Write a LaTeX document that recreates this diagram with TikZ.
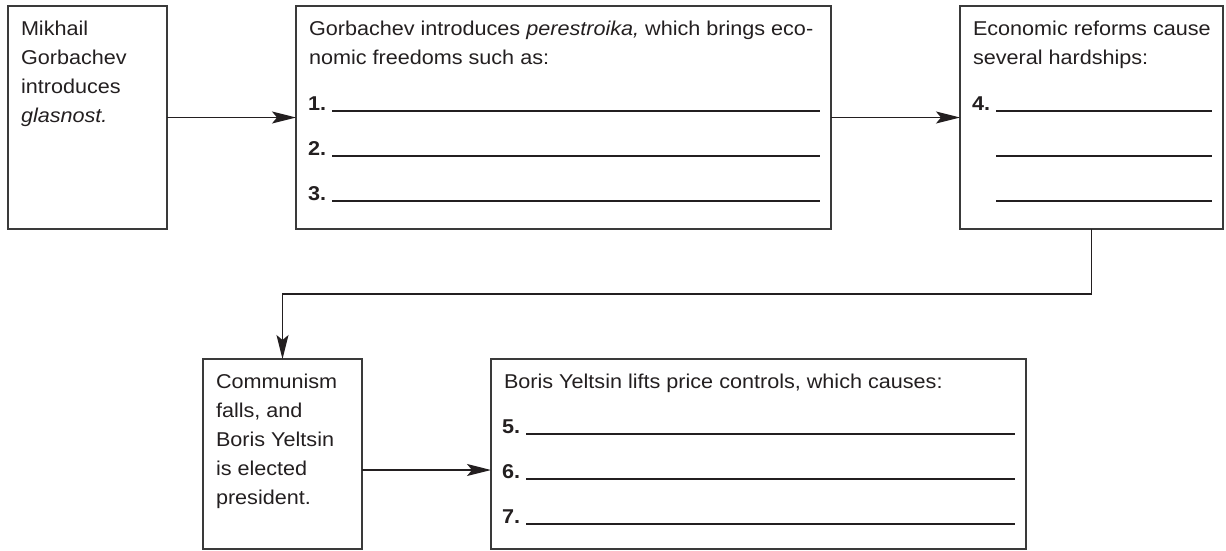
\documentclass[tikz,border=0pt]{standalone}
\usepackage{fontspec}
\setmainfont{Liberation Sans}[FakeStretch=1.08]
\usetikzlibrary{arrows.meta}
\definecolor{bordercol}{HTML}{3A3A3A}
\definecolor{textcol}{HTML}{231F20}
\begin{document}
\begin{tikzpicture}[x=1pt,y=-1pt,
  box/.style={draw=bordercol, line width=1.5pt, inner sep=0pt, outer sep=0pt, anchor=north west, minimum width=#1},
  txt/.style={anchor=base west, inner sep=0pt, outer sep=0pt, text=textcol, font=\fontsize{20}{29}\selectfont},
  num/.style={anchor=base west, inner sep=0pt, outer sep=0pt, text=textcol, font=\fontsize{20}{29}\selectfont\bfseries},
  uline/.style={draw=textcol, line width=1.4pt},
  conn/.style={draw=textcol, line width=1.3pt, -{Stealth[length=24pt,width=12pt,inset=5pt]}}
]
\useasboundingbox (0,0) rectangle (1226,550);

% boxes
\node[box=159pt, minimum height=223pt] (b1) at (8,6) {};
\node[box=535pt, minimum height=223pt] (b2) at (296,6) {};
\node[box=263pt, minimum height=223pt] (b3) at (960,6) {};
\node[box=159pt, minimum height=190pt] (b4) at (203,359) {};
\node[box=535pt, minimum height=190pt] (b5) at (491,359) {};

% box 1 text
\node[txt] (t1a) at (21,35) {Mikhail};
\node[txt] (t1b) at (21,64) {Gorbachev};
\node[txt] (t1c) at (21,93) {introduces};
\node[txt] (t1d) at (21,122) {\textit{glasnost.}};

% box 2 text
\node[txt] (t2a) at (309,35) {Gorbachev introduces \textit{perestroika,} which brings eco-};
\node[txt] (t2b) at (309,64) {nomic freedoms such as:};
\node[num] (n1) at (308,110) {1.};
\node[num] (n2) at (308,155) {2.};
\node[num] (n3) at (308,200) {3.};
\coordinate (u1a) at (332,111); \coordinate (u1b) at (820,111);
\coordinate (u2a) at (332,156); \coordinate (u2b) at (820,156);
\coordinate (u3a) at (332,201); \coordinate (u3b) at (820,201);
\draw[uline] (u1a) -- (u1b);
\draw[uline] (u2a) -- (u2b);
\draw[uline] (u3a) -- (u3b);

% box 3 text
\node[txt] (t3a) at (973,35) {Economic reforms cause};
\node[txt] (t3b) at (973,64) {several hardships:};
\node[num] (n4) at (972,110) {4.};
\coordinate (u4a) at (996,111); \coordinate (u4b) at (1212,111);
\coordinate (u5a) at (996,156); \coordinate (u5b) at (1212,156);
\coordinate (u6a) at (996,201); \coordinate (u6b) at (1212,201);
\draw[uline] (u4a) -- (u4b);
\draw[uline] (u5a) -- (u5b);
\draw[uline] (u6a) -- (u6b);

% box 4 text
\node[txt] (t4a) at (216,388) {Communism};
\node[txt] (t4b) at (216,417) {falls, and};
\node[txt] (t4c) at (216,446) {Boris Yeltsin};
\node[txt] (t4d) at (216,475) {is elected};
\node[txt] (t4e) at (216,504) {president.};

% box 5 text
\node[txt] (t5a) at (504,388) {Boris Yeltsin lifts price controls, which causes:};
\node[num] (n5) at (502,433) {5.};
\node[num] (n6) at (502,478) {6.};
\node[num] (n7) at (502,523) {7.};
\coordinate (u7a) at (526,434); \coordinate (u7b) at (1015,434);
\coordinate (u8a) at (526,479); \coordinate (u8b) at (1015,479);
\coordinate (u9a) at (526,524); \coordinate (u9b) at (1015,524);
\draw[uline] (u7a) -- (u7b);
\draw[uline] (u8a) -- (u8b);
\draw[uline] (u9a) -- (u9b);

% connectors
\draw[conn] (b1.east) -- (b2.west);
\draw[conn] (b2.east) -- (b3.west);
\draw[conn] (b3.south) -- ++(0,65) -| (b4.north);
\draw[conn] ([yshift=-16pt]b4.east) -- ([yshift=-16pt]b5.west);
\end{tikzpicture}
\end{document}
